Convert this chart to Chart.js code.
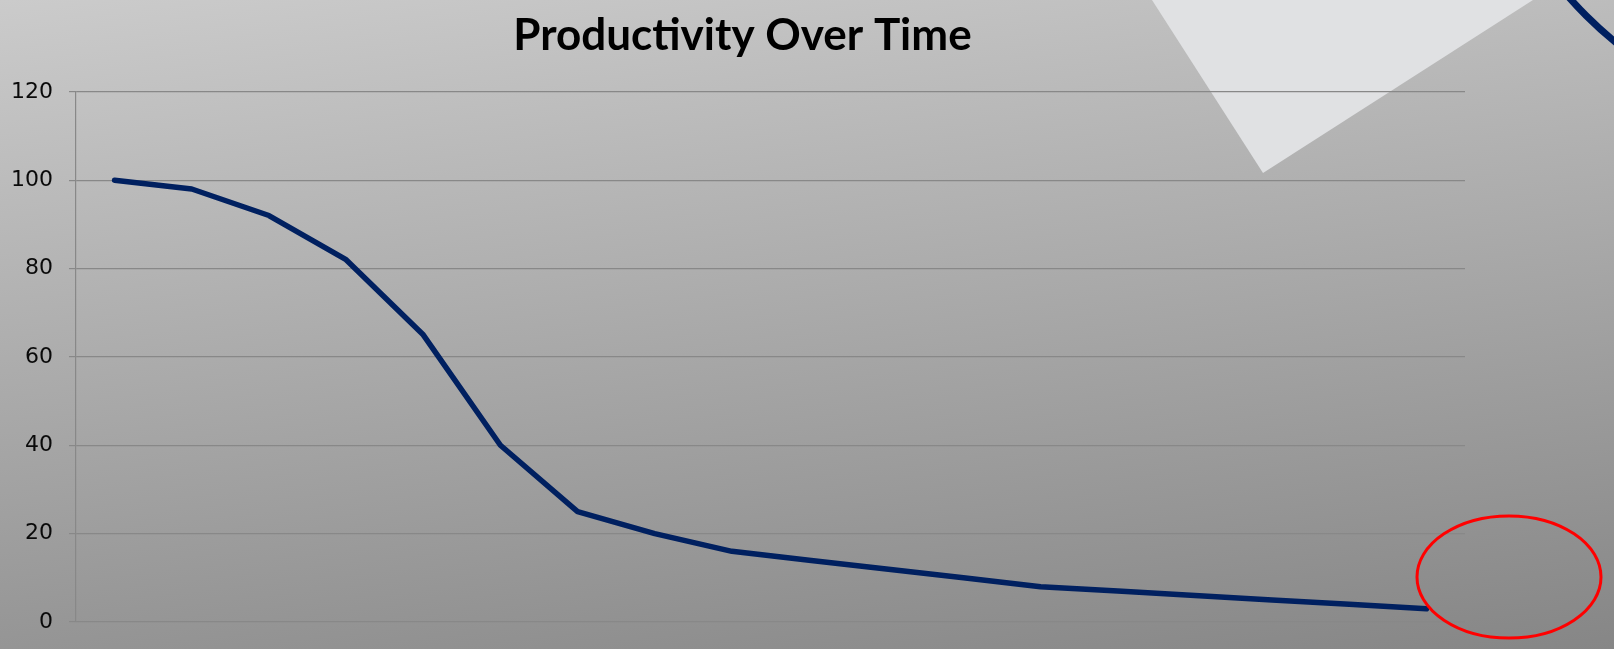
<!DOCTYPE html>
<html>
<head>
<meta charset="utf-8">
<title>Productivity Over Time</title>
<script src="https://cdn.jsdelivr.net/npm/chart.js@4.4.1/dist/chart.umd.min.js"></script>
<style>
  html, body { margin: 0; padding: 0; background: #a8a8a8; }
  canvas { display: block; }
</style>
</head>
<body>
<canvas id="chart" width="1614" height="649"></canvas>
<script>
// periods along the x axis (no labels shown in the original)
const periods = ['1', '2', '3', '4', '5', '6', '7', '8', '9', '10', '11', '12', '13', '14', '15', '16', '17', '18'];
const productivity = [100, 98, 92, 82, 65, 40, 25, 20, 16, 14, 12, 10, 8, 7, 6, 5, 4, 3];
const yTicks = [0, 20, 40, 60, 80, 100, 120];

const navy = '#002060';
const gridGray = '#888888';

// slide background + the decorations around the chart
const slideDecor = {
  id: 'slideDecor',
  beforeDraw(chart) {
    const c = chart.ctx;
    const w = chart.width, h = chart.height;
    c.save();
    const g = c.createLinearGradient(0, 0, 91, 829);
    g.addColorStop(0, '#cbcbcb');
    g.addColorStop(1, '#858585');
    c.fillStyle = g;
    c.fillRect(0, 0, w, h);

    // pale triangle top right
    c.fillStyle = '#e0e1e3';
    c.beginPath();
    c.moveTo(1152, 0);
    c.lineTo(1533, 0);
    c.lineTo(1263, 173);
    c.closePath();
    c.fill();
    c.restore();
  },
  afterDraw(chart) {
    const c = chart.ctx;
    c.save();
    // navy arc in the corner
    c.strokeStyle = navy;
    c.lineWidth = 7;
    c.beginPath();
    c.arc(1862, -260, 390, 0, Math.PI);
    c.stroke();

    // red ellipse
    c.strokeStyle = '#ff0000';
    c.lineWidth = 3;
    c.beginPath();
    c.ellipse(1509, 577, 92, 61, 0, 0, Math.PI * 2);
    c.stroke();
    c.restore();
  }
};

Chart.defaults.font.family = 'Lato';

const ctx = document.getElementById('chart').getContext('2d');
new Chart(ctx, {
  type: 'line',
  data: {
    labels: periods,
    datasets: [{
      label: 'Productivity',
      data: productivity,
      borderColor: navy,
      borderWidth: 5.5,
      borderCapStyle: 'round',
      borderJoinStyle: 'round',
      pointRadius: 0,
      tension: 0,
      fill: false
    }]
  },
  options: {
    responsive: false,
    animation: false,
    layout: {
      padding: { left: 0, right: 129, top: 0, bottom: 19 }
    },
    plugins: {
      legend: { display: false },
      tooltip: { enabled: false },
      title: {
        display: true,
        text: 'Productivity Over Time',
        color: '#000',
        font: { size: 44, weight: 'bold' },
        padding: { top: 9, bottom: 30 }
      }
    },
    scales: {
      x: {
        offset: true,
        ticks: { display: false },
        grid: { display: false },
        border: { display: false }
      },
      y: {
        min: 0,
        max: 120,
        afterBuildTicks: (scale) => {
          scale.ticks = yTicks.map(v => ({ value: v }));
        },
        afterFit: (scale) => {
          scale.width = 76;
          scale.paddingTop = 0;
          scale.paddingBottom = 0;
        },
        ticks: {
          color: '#0a0a0a',
          font: { family: 'DejaVu Sans', size: 22 },
          padding: 16
        },
        grid: {
          color: gridGray,
          lineWidth: 1.2,
          tickLength: 7
        },
        border: { display: true, color: gridGray, width: 1.2 }
      },
      // empty strip on the right so the plot stops short of the decorations
      rightSpace: {
        position: 'right',
        ticks: { display: false },
        grid: { display: false },
        border: { display: false },
        afterFit: (scale) => {
          scale.width = 20;
        }
      }
    }
  },
  plugins: [slideDecor]
});
</script>
</body>
</html>
